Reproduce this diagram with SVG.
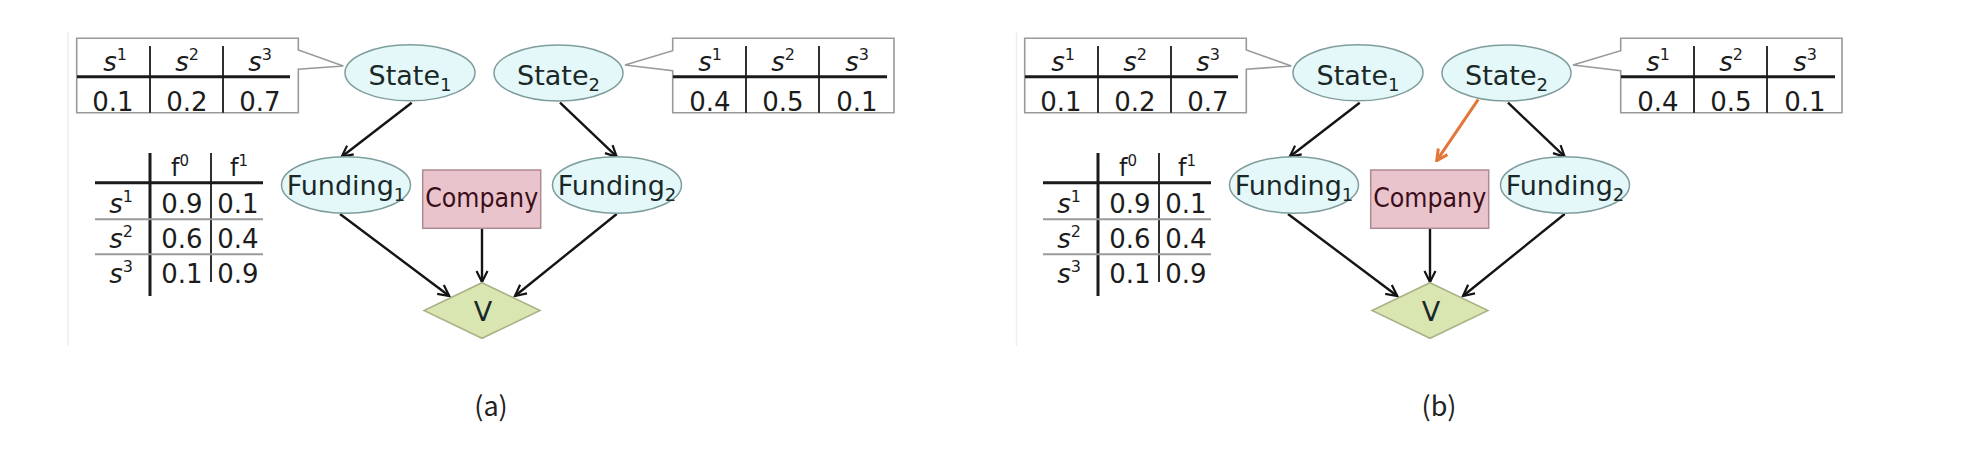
<svg xmlns="http://www.w3.org/2000/svg" width="1968" height="454" viewBox="0 0 1968 454">
<style>
.t{font-family:"DejaVu Sans","Liberation Sans",sans-serif;fill:#1c1c1c}
.it{font-style:italic}
.call{fill:#fff;stroke:#9a9a9a;stroke-width:1.6}
.thick{stroke:#1a1a1a;stroke-width:3}
.thin{stroke:#1a1a1a;stroke-width:1.8}
.grey{stroke:#9a9a9a;stroke-width:2}
.ell{fill:#e5f8f9;stroke:#7f9d9d;stroke-width:1.5}
.rect{fill:#e9c4cc;stroke:#ad8b93;stroke-width:1.5}
.dia{fill:#d9e6b1;stroke:#a7b386;stroke-width:1.5}
.nt{font-family:"DejaVu Sans","Liberation Sans",sans-serif;fill:#1a2828;font-size:27px}
.edge{stroke:#141414;stroke-width:2.4;fill:none;marker-end:url(#arr)}
.oedge{stroke:#e2773a;stroke-width:3;fill:none;marker-end:url(#oarr)}
.cap{font-family:"Noto Sans CJK KR","Noto Sans",sans-serif;font-size:27px;fill:#222}
.frame{stroke:#eeeeee;stroke-width:1.5}
</style>
<defs>
<marker id="arr" viewBox="0 0 14 14" refX="12.5" refY="7" markerWidth="14" markerHeight="14" orient="auto" markerUnits="userSpaceOnUse">
<path d="M1.5,1.5 L12.5,7 L1.5,12.5" fill="none" stroke="#141414" stroke-width="2.2"/>
</marker>
<marker id="oarr" viewBox="0 0 14 14" refX="12.5" refY="7" markerWidth="14" markerHeight="14" orient="auto" markerUnits="userSpaceOnUse">
<path d="M1.5,1.5 L12.5,7 L1.5,12.5" fill="none" stroke="#e2773a" stroke-width="3"/>
</marker>
</defs>
<rect width="1968" height="454" fill="#fff"/>

<!-- Panel (a) -->
<g id="panel-a">
<line class="frame" x1="68" y1="32" x2="68" y2="346"/>
<g id="a-table-state1">
<path class="call" d="M76.7,38.3 H298.3 V50 L343.3,66 L298.3,69.3 V112.7 H76.7 Z"/>
<line class="thick" x1="77" y1="76.7" x2="290" y2="76.7"/>
<line class="thin" x1="150" y1="46" x2="150" y2="112.7"/>
<line class="thin" x1="223" y1="46" x2="223" y2="112.7"/>
<text class="t" font-size="26" text-anchor="middle" x="115" y="71"><tspan class="it">s</tspan><tspan font-size="16" dy="-11">1</tspan></text>
<text class="t" font-size="26" text-anchor="middle" x="187" y="71"><tspan class="it">s</tspan><tspan font-size="16" dy="-11">2</tspan></text>
<text class="t" font-size="26" text-anchor="middle" x="260" y="71"><tspan class="it">s</tspan><tspan font-size="16" dy="-11">3</tspan></text>
<text class="t" font-size="26" text-anchor="middle" x="113" y="111">0.1</text>
<text class="t" font-size="26" text-anchor="middle" x="187" y="111">0.2</text>
<text class="t" font-size="26" text-anchor="middle" x="260" y="111">0.7</text>
</g>
<g id="a-table-state2">
<path class="call" d="M672.7,38.3 H894 V112.7 H672.7 V70.7 L625,65 L672.7,50.7 Z"/>
<line class="thick" x1="673" y1="76.7" x2="887" y2="76.7"/>
<line class="thin" x1="746" y1="46" x2="746" y2="112.7"/>
<line class="thin" x1="819" y1="46" x2="819" y2="112.7"/>
<text class="t" font-size="26" text-anchor="middle" x="710" y="71"><tspan class="it">s</tspan><tspan font-size="16" dy="-11">1</tspan></text>
<text class="t" font-size="26" text-anchor="middle" x="783" y="71"><tspan class="it">s</tspan><tspan font-size="16" dy="-11">2</tspan></text>
<text class="t" font-size="26" text-anchor="middle" x="857" y="71"><tspan class="it">s</tspan><tspan font-size="16" dy="-11">3</tspan></text>
<text class="t" font-size="26" text-anchor="middle" x="710" y="111">0.4</text>
<text class="t" font-size="26" text-anchor="middle" x="783" y="111">0.5</text>
<text class="t" font-size="26" text-anchor="middle" x="857" y="111">0.1</text>
</g>
<g id="a-table-funding">
<line class="thick" x1="150" y1="153" x2="150" y2="296"/>
<line class="thin" x1="211" y1="153" x2="211" y2="282"/>
<line class="thick" x1="95" y1="182.7" x2="263" y2="182.7"/>
<line class="grey" x1="95" y1="219.3" x2="263" y2="219.3"/>
<line class="grey" x1="95" y1="254.3" x2="263" y2="254.3"/>
<text class="t" font-size="24" text-anchor="middle" x="180" y="176">f<tspan font-size="15" dy="-10">0</tspan></text>
<text class="t" font-size="24" text-anchor="middle" x="239" y="176">f<tspan font-size="15" dy="-10">1</tspan></text>
<text class="t" font-size="26" text-anchor="end" x="133" y="213"><tspan class="it">s</tspan><tspan font-size="16" dy="-11">1</tspan></text>
<text class="t" font-size="26" text-anchor="end" x="133" y="248"><tspan class="it">s</tspan><tspan font-size="16" dy="-11">2</tspan></text>
<text class="t" font-size="26" text-anchor="end" x="133" y="283"><tspan class="it">s</tspan><tspan font-size="16" dy="-11">3</tspan></text>
<text class="t" font-size="26" text-anchor="middle" x="182" y="213">0.9</text>
<text class="t" font-size="26" text-anchor="middle" x="238" y="213">0.1</text>
<text class="t" font-size="26" text-anchor="middle" x="182" y="248">0.6</text>
<text class="t" font-size="26" text-anchor="middle" x="238" y="248">0.4</text>
<text class="t" font-size="26" text-anchor="middle" x="182" y="283">0.1</text>
<text class="t" font-size="26" text-anchor="middle" x="238" y="283">0.9</text>
</g>
<g id="a-connectors">
<line class="edge" x1="411.7" y1="102.7" x2="341.7" y2="156.7"/>
<line class="edge" x1="560" y1="102.7" x2="616.7" y2="156.7"/>
<line class="edge" x1="340" y1="214" x2="449.3" y2="296"/>
<line class="edge" x1="482" y1="228.3" x2="482" y2="282"/>
<line class="edge" x1="616.7" y1="214" x2="515" y2="296"/>
</g>
<g id="a-state1">
<ellipse class="ell" cx="410" cy="72.8" rx="65" ry="28"/>
<text class="nt" text-anchor="middle" x="410" y="85">State<tspan font-size="18" dy="6">1</tspan></text>
</g>
<g id="a-state2">
<ellipse class="ell" cx="558.5" cy="73" rx="64.5" ry="28"/>
<text class="nt" text-anchor="middle" x="558.5" y="85">State<tspan font-size="18" dy="6">2</tspan></text>
</g>
<g id="a-funding1">
<ellipse class="ell" cx="346" cy="185" rx="64.5" ry="28.3"/>
<text class="nt" font-size="26" text-anchor="middle" x="346" y="195">Funding<tspan font-size="18" dy="6">1</tspan></text>
</g>
<g id="a-funding2">
<ellipse class="ell" cx="617" cy="185" rx="64.5" ry="28.3"/>
<text class="nt" font-size="26" text-anchor="middle" x="617" y="195">Funding<tspan font-size="18" dy="6">2</tspan></text>
</g>
<g id="a-company">
<rect class="rect" x="422.7" y="170" width="118" height="58.3"/>
<text class="nt" style="fill:#3a0e18" font-size="26" text-anchor="middle" x="481.7" y="206.7" textLength="113" lengthAdjust="spacingAndGlyphs">Company</text>
</g>
<g id="a-v">
<polygon class="dia" points="482,282.7 540,310.5 482,338.3 424,310.5"/>
<text class="nt" font-size="28" text-anchor="middle" x="483" y="321">V</text>
</g>
<text class="cap" text-anchor="middle" x="491" y="416">(a)</text>
</g>

<!-- Panel (b) -->
<g id="panel-b" transform="translate(948 0)">
<line class="frame" x1="68.5" y1="32" x2="68.5" y2="346"/>
<g id="b-table-state1">
<path class="call" d="M76.7,38.3 H298.3 V50 L343.3,66 L298.3,69.3 V112.7 H76.7 Z"/>
<line class="thick" x1="77" y1="76.7" x2="290" y2="76.7"/>
<line class="thin" x1="150" y1="46" x2="150" y2="112.7"/>
<line class="thin" x1="223" y1="46" x2="223" y2="112.7"/>
<text class="t" font-size="26" text-anchor="middle" x="115" y="71"><tspan class="it">s</tspan><tspan font-size="16" dy="-11">1</tspan></text>
<text class="t" font-size="26" text-anchor="middle" x="187" y="71"><tspan class="it">s</tspan><tspan font-size="16" dy="-11">2</tspan></text>
<text class="t" font-size="26" text-anchor="middle" x="260" y="71"><tspan class="it">s</tspan><tspan font-size="16" dy="-11">3</tspan></text>
<text class="t" font-size="26" text-anchor="middle" x="113" y="111">0.1</text>
<text class="t" font-size="26" text-anchor="middle" x="187" y="111">0.2</text>
<text class="t" font-size="26" text-anchor="middle" x="260" y="111">0.7</text>
</g>
<g id="b-table-state2">
<path class="call" d="M672.7,38.3 H894 V112.7 H672.7 V70.7 L625,65 L672.7,50.7 Z"/>
<line class="thick" x1="673" y1="76.7" x2="887" y2="76.7"/>
<line class="thin" x1="746" y1="46" x2="746" y2="112.7"/>
<line class="thin" x1="819" y1="46" x2="819" y2="112.7"/>
<text class="t" font-size="26" text-anchor="middle" x="710" y="71"><tspan class="it">s</tspan><tspan font-size="16" dy="-11">1</tspan></text>
<text class="t" font-size="26" text-anchor="middle" x="783" y="71"><tspan class="it">s</tspan><tspan font-size="16" dy="-11">2</tspan></text>
<text class="t" font-size="26" text-anchor="middle" x="857" y="71"><tspan class="it">s</tspan><tspan font-size="16" dy="-11">3</tspan></text>
<text class="t" font-size="26" text-anchor="middle" x="710" y="111">0.4</text>
<text class="t" font-size="26" text-anchor="middle" x="783" y="111">0.5</text>
<text class="t" font-size="26" text-anchor="middle" x="857" y="111">0.1</text>
</g>
<g id="b-table-funding">
<line class="thick" x1="150" y1="153" x2="150" y2="296"/>
<line class="thin" x1="211" y1="153" x2="211" y2="282"/>
<line class="thick" x1="95" y1="182.7" x2="263" y2="182.7"/>
<line class="grey" x1="95" y1="219.3" x2="263" y2="219.3"/>
<line class="grey" x1="95" y1="254.3" x2="263" y2="254.3"/>
<text class="t" font-size="24" text-anchor="middle" x="180" y="176">f<tspan font-size="15" dy="-10">0</tspan></text>
<text class="t" font-size="24" text-anchor="middle" x="239" y="176">f<tspan font-size="15" dy="-10">1</tspan></text>
<text class="t" font-size="26" text-anchor="end" x="133" y="213"><tspan class="it">s</tspan><tspan font-size="16" dy="-11">1</tspan></text>
<text class="t" font-size="26" text-anchor="end" x="133" y="248"><tspan class="it">s</tspan><tspan font-size="16" dy="-11">2</tspan></text>
<text class="t" font-size="26" text-anchor="end" x="133" y="283"><tspan class="it">s</tspan><tspan font-size="16" dy="-11">3</tspan></text>
<text class="t" font-size="26" text-anchor="middle" x="182" y="213">0.9</text>
<text class="t" font-size="26" text-anchor="middle" x="238" y="213">0.1</text>
<text class="t" font-size="26" text-anchor="middle" x="182" y="248">0.6</text>
<text class="t" font-size="26" text-anchor="middle" x="238" y="248">0.4</text>
<text class="t" font-size="26" text-anchor="middle" x="182" y="283">0.1</text>
<text class="t" font-size="26" text-anchor="middle" x="238" y="283">0.9</text>
</g>
<g id="b-connectors">
<line class="edge" x1="411.7" y1="102.7" x2="341.7" y2="156.7"/>
<line class="edge" x1="560" y1="102.7" x2="616.7" y2="156.7"/>
<line class="oedge" x1="530.3" y1="99.3" x2="488.7" y2="160.7"/>
<line class="edge" x1="340" y1="214" x2="449.3" y2="296"/>
<line class="edge" x1="482" y1="228.3" x2="482" y2="282"/>
<line class="edge" x1="616.7" y1="214" x2="515" y2="296"/>
</g>
<g id="b-state1">
<ellipse class="ell" cx="410" cy="72.8" rx="65" ry="28"/>
<text class="nt" text-anchor="middle" x="410" y="85">State<tspan font-size="18" dy="6">1</tspan></text>
</g>
<g id="b-state2">
<ellipse class="ell" cx="558.5" cy="73" rx="64.5" ry="28"/>
<text class="nt" text-anchor="middle" x="558.5" y="85">State<tspan font-size="18" dy="6">2</tspan></text>
</g>
<g id="b-funding1">
<ellipse class="ell" cx="346" cy="185" rx="64.5" ry="28.3"/>
<text class="nt" font-size="26" text-anchor="middle" x="346" y="195">Funding<tspan font-size="18" dy="6">1</tspan></text>
</g>
<g id="b-funding2">
<ellipse class="ell" cx="617" cy="185" rx="64.5" ry="28.3"/>
<text class="nt" font-size="26" text-anchor="middle" x="617" y="195">Funding<tspan font-size="18" dy="6">2</tspan></text>
</g>
<g id="b-company">
<rect class="rect" x="422.7" y="170" width="118" height="58.3"/>
<text class="nt" style="fill:#3a0e18" font-size="26" text-anchor="middle" x="481.7" y="206.7" textLength="113" lengthAdjust="spacingAndGlyphs">Company</text>
</g>
<g id="b-v">
<polygon class="dia" points="482,282.7 540,310.5 482,338.3 424,310.5"/>
<text class="nt" font-size="28" text-anchor="middle" x="483" y="321">V</text>
</g>
<text class="cap" text-anchor="middle" x="491" y="416">(b)</text>
</g>
</svg>
